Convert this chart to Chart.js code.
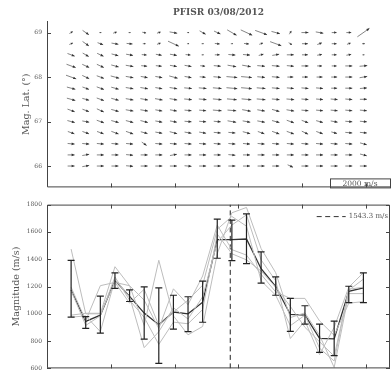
<!DOCTYPE html>
<html>
<head>
<meta charset="utf-8">
<script src="https://cdn.jsdelivr.net/npm/chart.js@4.4.1/dist/chart.umd.min.js"></script>
<style>
  html, body { margin: 0; padding: 0; background: #fff; }
  #wrap { position: relative; width: 392px; height: 377px; overflow: hidden; }
  #topBox { position: absolute; left: 0; top: 0; width: 392px; height: 196px; }
  #botBox { position: absolute; left: 0; top: 196px; width: 392px; height: 181px; }
</style>
</head>
<body>
<div id="wrap">
  <div id="topBox"><canvas id="vecChart"></canvas></div>
  <div id="botBox"><canvas id="magChart"></canvas></div>
</div>
<script>
// shared x axis: sample number along the pass (tick labels are not shown)
const samples = [0, 1, 2, 3, 4, 5, 6, 7, 8, 9, 10, 11, 12, 13, 14, 15, 16, 17, 18, 19, 20];
const xTicks = [2.72, 7.08, 11.44, 15.8, 20.16];

// top panel: flow vectors, one row per latitude (speed m/s, direction deg from east)
const lats = [69, 68.75, 68.5, 68.25, 68, 67.75, 67.5, 67.25, 67, 66.75, 66.5, 66.25, 66];
const latTicks = [66, 67, 68, 69];
const speedRows = [
  [550, 1100, 300, 550, 300, 550, 550, 1100, 300, 1000, 1000, 1550, 1800, 1800, 1250, 550, 1000, 1100, 700, 700, 2100],
  [550, 1100, 850, 1000, 850, 400, 550, 1700, 300, 300, 700, 300, 700, 550, 1700, 550, 850, 700, 700, 550, 400],
  [1100, 1000, 1000, 1000, 1000, 700, 850, 1000, 700, 300, 700, 1000, 1000, 700, 1000, 1000, 850, 700, 700, 700, 300],
  [1400, 1100, 1100, 1100, 1100, 850, 850, 1000, 1000, 700, 1000, 1250, 1250, 1100, 1100, 1000, 1000, 700, 700, 1000, 1100],
  [1550, 1100, 1100, 1250, 1100, 1000, 1000, 1250, 1000, 850, 1100, 1550, 1550, 1100, 1100, 850, 850, 850, 850, 1000, 1100],
  [1250, 1000, 1100, 1100, 1100, 1100, 1000, 1100, 1100, 1100, 1250, 1550, 1550, 1250, 1100, 1000, 1000, 1000, 850, 1000, 1000],
  [1250, 1000, 1100, 1100, 1100, 1100, 1100, 1100, 1100, 1100, 1250, 1400, 1400, 1250, 1100, 1100, 1000, 1000, 1000, 1000, 1000],
  [1100, 1000, 1100, 1100, 1100, 1100, 1000, 1000, 1000, 1000, 1250, 1250, 1250, 1100, 1100, 1100, 1000, 1000, 1000, 1000, 1000],
  [1100, 1000, 1100, 1100, 1100, 1100, 1000, 1000, 1000, 1000, 1000, 1250, 1100, 1100, 1100, 1100, 1000, 1000, 1000, 1000, 1000],
  [1000, 1000, 1000, 1100, 1100, 1000, 1000, 1100, 1000, 1000, 1000, 1000, 1100, 1000, 1100, 1100, 1000, 1000, 850, 1000, 1000],
  [1000, 1000, 1000, 1000, 1000, 850, 1000, 1000, 1000, 1000, 1000, 1000, 1000, 1000, 1000, 1000, 1000, 1000, 1000, 1000, 1000],
  [1000, 1000, 1000, 1000, 1000, 1000, 1000, 1000, 1000, 1000, 1000, 1000, 1000, 1000, 1000, 1000, 1000, 1000, 1000, 1000, 1000],
  [1000, 1000, 1000, 1000, 1000, 1000, 1000, 1000, 1000, 1000, 1000, 1000, 1000, 1000, 1000, 850, 1000, 1000, 1000, 1000, 1000]
];
const dirRows = [
  [30, -35, 0, 20, 0, -10, 20, -10, 0, -30, -25, -30, -25, -20, -15, 60, 0, -10, 0, 0, 35],
  [25, -35, -20, -10, -5, 0, 20, -25, 0, 0, -5, 0, -5, 20, -20, -30, 0, 20, 0, 20, 0],
  [-20, -30, -25, -15, -10, -5, -10, -10, -5, 0, 0, -5, -5, 15, 10, 0, 0, 10, 0, 10, 0],
  [-20, -25, -25, -15, -10, -5, -5, -10, -10, -5, -5, -10, -10, -5, -5, -5, 0, 0, 0, 0, 5],
  [-20, -25, -20, -15, -10, -10, -10, -15, -10, -5, -5, -5, -5, -5, -5, 0, 0, 0, 0, 0, 10],
  [-15, -20, -20, -15, -10, -10, -10, -10, -5, -5, -5, -5, -5, -5, -5, -5, -5, -5, 0, 0, 5],
  [-15, -15, -20, -15, -10, -10, -10, -10, -5, -5, -5, -5, -5, -5, -5, -5, -5, -5, -5, -5, 0],
  [-20, -20, -25, -15, -10, -10, -10, -10, -5, -5, -5, -5, -10, -10, -15, -10, -5, -5, -5, -5, -5],
  [-15, -10, -20, -15, -15, -15, -10, -10, -5, -5, -5, -10, -10, -10, -15, -20, -20, -15, -10, -5, -5],
  [-20, -20, -20, -20, -20, -15, -10, -15, -10, -10, -5, -5, -15, -20, -20, -20, -25, -20, -15, -5, -5],
  [-5, -5, -5, -5, -5, -35, -5, -5, -5, -5, -5, -5, -5, -5, -5, -5, -5, -5, -5, -5, -15],
  [0, 10, 0, 0, -5, 0, 0, 10, 0, 0, 0, -5, 0, 0, 0, 0, 0, 0, 0, 0, -15],
  [0, 10, 0, 0, -5, 0, 0, 0, -5, 0, 0, 0, 0, 0, 0, -25, 0, 0, 0, 0, 0]
];
const refLabel = '2000 m/s';

// bottom panel: magnitude (m/s)
const meanMag = [1175, 945, 990, 1245, 1128, 1005, 920, 1013, 1000, 1085, 1544, 1544, 1548, 1330, 1200, 995, 990, 820, 816, 1165, 1190];
const errLow  = [975, 893, 858, 1186, 1090, 815, 637, 887, 870, 938, 1407, 1390, 1367, 1224, 1136, 871, 925, 718, 694, 1082, 1082];
const errHigh = [1392, 980, 1130, 1300, 1176, 1197, 1190, 1136, 1125, 1240, 1693, 1686, 1732, 1454, 1271, 1113, 1059, 925, 946, 1202, 1300];
const run1 = [1474, 1000, 1000, 1345, 1206, 1100, 892, 1183, 1067, 1277, 1650, 1470, 1430, 1289, 1160, 1113, 1113, 948, 842, 1078, 1089];
const run2 = [1195, 950, 1206, 1230, 1206, 915, 1392, 985, 846, 907, 1440, 1740, 1779, 1478, 1301, 972, 1007, 842, 607, 1148, 1148];
const run3 = [975, 985, 869, 1250, 1125, 752, 869, 1044, 962, 1125, 1525, 1650, 1725, 1395, 1242, 819, 948, 701, 901, 1195, 1301];
const run4 = [1171, 915, 985, 1270, 1100, 974, 776, 939, 927, 1031, 1584, 1440, 1395, 1313, 1195, 1054, 901, 795, 690, 1172, 1254];
const run5 = [990, 1004, 1004, 1230, 1078, 1180, 915, 1013, 1100, 1210, 1619, 1713, 1642, 1242, 1136, 913, 990, 748, 654, 1180, 1195];
const dashSample = 10.89;
const dashLabel = '1543.3 m/s';

const FONT = "'DejaVu Serif', 'Liberation Serif', serif";
const TXT = '#555';
const pxPerMs = 0.007;

Chart.defaults.font.family = FONT;
Chart.defaults.color = TXT;

const xFixed = s => { s.ticks = xTicks.map(v => ({ value: v })); };

// box + inward ticks, matlab style
const framePlugin = {
    id: 'frame',
    afterDraw(chart, args, opts) {
        const { ctx, chartArea: a, scales: { x, y } } = chart;
        const t = 4;
        ctx.save();
        ctx.strokeStyle = '#444';
        ctx.lineWidth = 1;
        ctx.beginPath();
        if (opts.full) {
            ctx.rect(a.left + 0.5, a.top + 0.5, a.right - a.left - 1, a.bottom - a.top - 1);
        } else {
            ctx.moveTo(a.left + 0.5, a.top);
            ctx.lineTo(a.left + 0.5, a.bottom - 0.5);
            ctx.lineTo(a.right, a.bottom - 0.5);
        }
        y.ticks.forEach(tk => {
            const py = Math.round(y.getPixelForValue(tk.value)) + 0.5;
            ctx.moveTo(a.left, py); ctx.lineTo(a.left + t, py);
            if (opts.full) { ctx.moveTo(a.right, py); ctx.lineTo(a.right - t, py); }
        });
        x.ticks.forEach(tk => {
            const px = Math.round(x.getPixelForValue(tk.value)) + 0.5;
            ctx.moveTo(px, a.bottom); ctx.lineTo(px, a.bottom - t);
            if (opts.full) { ctx.moveTo(px, a.top); ctx.lineTo(px, a.top + t); }
        });
        ctx.stroke();
        ctx.restore();
    }
};

// arrows centred on each grid point
const quiverPlugin = {
    id: 'quiver',
    afterDatasetsDraw(chart) {
        const { ctx } = chart;
        const meta = chart.getDatasetMeta(0);
        const pts = chart.data.datasets[0].data;
        ctx.save();
        ctx.strokeStyle = '#666';
        ctx.fillStyle = '#333';
        ctx.lineWidth = 0.8;
        meta.data.forEach((el, i) => {
            const p = pts[i];
            const a = p.dir * Math.PI / 180;
            const len = p.speed * pxPerMs;
            const ux = Math.cos(a), uy = -Math.sin(a);
            const x0 = el.x - ux * len / 2, y0 = el.y - uy * len / 2;
            const x1 = el.x + ux * len / 2, y1 = el.y + uy * len / 2;
            ctx.beginPath();
            ctx.moveTo(x0, y0);
            ctx.lineTo(x1, y1);
            ctx.stroke();
            const hl = Math.min(3, len * 0.5), hw = Math.min(1.3, len * 0.3);
            ctx.beginPath();
            ctx.moveTo(x1, y1);
            ctx.lineTo(x1 - ux * hl - uy * hw, y1 - uy * hl + ux * hw);
            ctx.lineTo(x1 - ux * hl + uy * hw, y1 - uy * hl - ux * hw);
            ctx.closePath();
            ctx.fill();
        });
        // scale box at lower right
        const ca = chart.chartArea;
        ctx.fillStyle = '#fff';
        ctx.fillRect(ca.right - 60, ca.bottom - 9, 60, 9);
        ctx.strokeStyle = '#444';
        ctx.lineWidth = 1;
        ctx.strokeRect(ca.right - 59.5, ca.bottom - 8.5, 60, 9);
        ctx.fillStyle = TXT;
        ctx.font = '7.5px ' + FONT;
        ctx.textAlign = 'center';
        ctx.textBaseline = 'middle';
        ctx.fillText(refLabel, ca.right - 30, ca.bottom - 3.5);
        ctx.restore();
    }
};

// error bars on the mean curve + dashed-line legend
const errorPlugin = {
    id: 'errbars',
    afterDatasetsDraw(chart) {
        const { ctx, scales: { y }, chartArea: ca } = chart;
        const meta = chart.getDatasetMeta(5);
        ctx.save();
        ctx.strokeStyle = '#222';
        ctx.lineWidth = 1.2;
        ctx.beginPath();
        meta.data.forEach((el, i) => {
            const yl = y.getPixelForValue(errLow[i]);
            const yh = y.getPixelForValue(errHigh[i]);
            ctx.moveTo(el.x, yl); ctx.lineTo(el.x, yh);
            ctx.moveTo(el.x - 3.5, yl); ctx.lineTo(el.x + 3.5, yl);
            ctx.moveTo(el.x - 3.5, yh); ctx.lineTo(el.x + 3.5, yh);
        });
        ctx.stroke();

        ctx.font = '7px ' + FONT;
        ctx.fillStyle = TXT;
        ctx.textAlign = 'right';
        ctx.textBaseline = 'middle';
        const tx = ca.right - 2, ty = ca.top + 12;
        const w = ctx.measureText(dashLabel).width;
        ctx.fillText(dashLabel, tx, ty);
        ctx.strokeStyle = '#333';
        ctx.lineWidth = 1;
        ctx.setLineDash([5, 3.5]);
        ctx.beginPath();
        ctx.moveTo(tx - w - 32, ty);
        ctx.lineTo(tx - w - 3, ty);
        ctx.stroke();
        ctx.restore();
    }
};

const gridPoints = [];
lats.forEach((lat, r) => {
    samples.forEach((s, c) => {
        gridPoints.push({ x: s, y: lat, speed: speedRows[r][c], dir: dirRows[r][c] });
    });
});

const createVectorChart = () => {
    const ctx = document.getElementById('vecChart').getContext('2d');
    return new Chart(ctx, {
        type: 'scatter',
        data: {
            datasets: [{
                data: gridPoints,
                pointRadius: 0,
                showLine: false
            }]
        },
        plugins: [framePlugin, quiverPlugin],
        options: {
            responsive: true,
            maintainAspectRatio: false,
            animation: false,
            events: [],
            layout: { padding: { left: 0, right: 2, top: 0, bottom: 4 } },
            plugins: {
                legend: { display: false },
                tooltip: { enabled: false },
                title: {
                    display: true,
                    text: 'PFISR 03/08/2012',
                    fullSize: false,
                    color: TXT,
                    font: { size: 9, weight: 'bold', family: FONT },
                    padding: { top: 7, bottom: 3.2 }
                },
                frame: { full: false }
            },
            scales: {
                x: {
                    type: 'linear',
                    min: -1.65,
                    max: 21.82,
                    afterBuildTicks: xFixed,
                    afterFit: s => { s.height = 0; },
                    ticks: { display: false },
                    grid: { display: false, drawTicks: false },
                    border: { display: false }
                },
                y: {
                    min: 65.52,
                    max: 69.26,
                    afterBuildTicks: s => { s.ticks = latTicks.map(v => ({ value: v })); },
                    afterFit: s => { s.width = 47; },
                    ticks: { font: { size: 6 }, color: TXT, padding: 5, callback: v => String(v) },
                    grid: { display: false, drawTicks: false },
                    border: { display: false },
                    title: {
                        display: true,
                        text: 'Mag. Lat. (°)',
                        color: TXT,
                        font: { size: 9.5 },
                        padding: { top: 21 }
                    }
                }
            }
        }
    });
};

const runLine = vals => ({
    data: samples.map((s, i) => ({ x: s, y: vals[i] })),
    borderColor: '#bdbdbd',
    borderWidth: 1,
    pointRadius: 0,
    fill: false
});

const createMagnitudeChart = () => {
    const ctx = document.getElementById('magChart').getContext('2d');
    return new Chart(ctx, {
        type: 'line',
        data: {
            datasets: [
                runLine(run1),
                runLine(run2),
                runLine(run3),
                runLine(run4),
                runLine(run5),
                {
                    data: samples.map((s, i) => ({ x: s, y: meanMag[i] })),
                    borderColor: '#333',
                    borderWidth: 1.3,
                    pointRadius: 0,
                    fill: false
                },
                {
                    data: [{ x: dashSample, y: 600 }, { x: dashSample, y: 1800 }],
                    borderColor: '#222',
                    borderWidth: 1,
                    borderDash: [5, 3.5],
                    pointRadius: 0,
                    fill: false
                }
            ]
        },
        plugins: [framePlugin, errorPlugin],
        options: {
            responsive: true,
            maintainAspectRatio: false,
            animation: false,
            events: [],
            layout: { padding: { left: 0, right: 2, top: 4, bottom: 5 } },
            plugins: {
                legend: { display: false },
                tooltip: { enabled: false },
                frame: { full: true }
            },
            scales: {
                x: {
                    type: 'linear',
                    min: -1.65,
                    max: 21.82,
                    afterBuildTicks: xFixed,
                    afterFit: s => { s.height = 0; },
                    ticks: { display: false },
                    grid: { display: false, drawTicks: false },
                    border: { display: false }
                },
                y: {
                    min: 600,
                    max: 1800,
                    afterFit: s => { s.width = 47; },
                    ticks: { stepSize: 200, font: { size: 6 }, color: TXT, padding: 5, callback: v => String(v) },
                    grid: { display: false, drawTicks: false },
                    border: { display: false },
                    title: {
                        display: true,
                        text: 'Magnitude (m/s)',
                        color: TXT,
                        font: { size: 9.5 },
                        padding: { top: 11 }
                    }
                }
            }
        }
    });
};

document.addEventListener('DOMContentLoaded', () => {
    const vecChart = createVectorChart();
    const magChart = createMagnitudeChart();
});
</script>
</body>
</html>
